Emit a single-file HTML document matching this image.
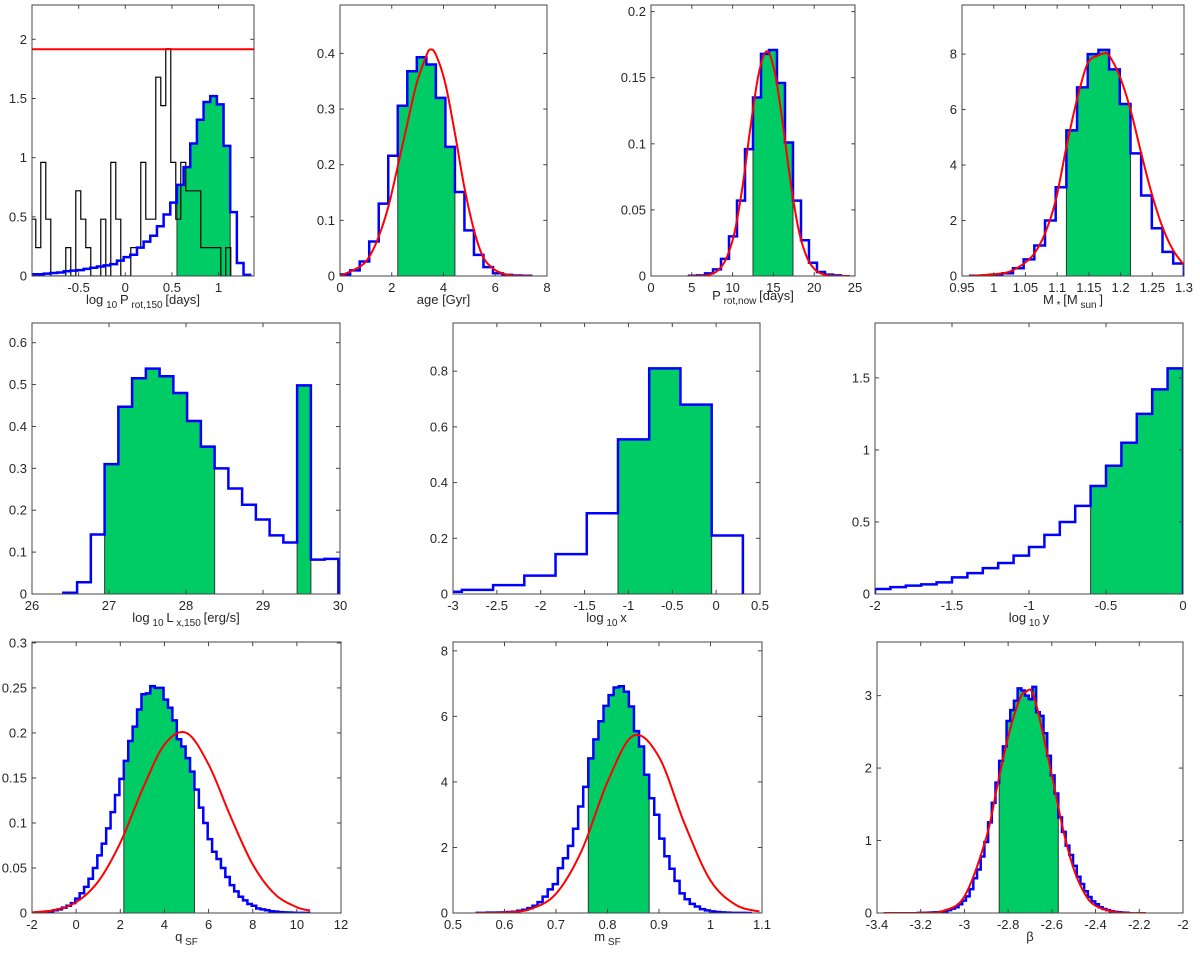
<!DOCTYPE html>
<html><head><meta charset="utf-8">
<style>
html,body{margin:0;padding:0;background:#fff;}
svg{display:block;font-family:"Liberation Sans",Arial,sans-serif;}
</style></head>
<body>
<svg id="fig" width="1200" height="953" viewBox="0 0 1200 953" xmlns="http://www.w3.org/2000/svg"></svg>
<script>
// ---------- data ----------
const p1BlueValues=[0.015,0.015,0.02,0.025,0.03,0.04,0.045,0.05,0.06,0.07,0.08,0.09,0.1,0.13,0.16,0.18,0.24,0.29,0.34,0.42,0.52,0.62,0.77,0.92,1.12,1.32,1.47,1.52,1.45,1.1,0.54,0.11,0.01];
const p1BlackValues=[0.48,0.24,0.96,0.48,0,0,0,0.24,0,0.72,0.48,0.24,0,0,0.48,0,0.96,0.48,0,0,0.24,0.24,0.96,0.48,0.48,1.68,1.44,1.92,0.96,0.48,0.96,0.72,0.72,0.72,0.24,0.24,0.24,0.24,0,0.24];
const p1RedLevel=[1.916];
const p2Values=[0.003,0.01,0.026,0.062,0.13,0.216,0.306,0.368,0.393,0.38,0.32,0.232,0.151,0.082,0.038,0.016,0.005,0.002,0.001,0.0005];
const p2CurveX=[0,0.774,1.135,1.497,1.871,2.232,2.607,2.968,3.329,3.484,3.703,4.065,4.439,4.8,5.175,5.523,5.898,6.259,6.633,7.382];
const p2CurveY=[0,0.017,0.035,0.071,0.125,0.197,0.275,0.347,0.395,0.407,0.398,0.347,0.257,0.161,0.083,0.035,0.014,0.005,0.001,0];
const p3Values=[0.0002,0.0005,0.002,0.005,0.013,0.03,0.057,0.096,0.135,0.168,0.171,0.146,0.101,0.057,0.027,0.01,0.003,0.001,0.0005];
const p3CurveX=[4.6,6.2,7.2,8.2,9.2,10.2,11.2,12.2,13.2,14.2,15.2,16.2,17.2,18.2,19.2,20.2,21.2,22.2,24.4];
const p3CurveY=[0,0.0002,0.0011,0.0042,0.0129,0.032,0.067,0.113,0.153,0.17,0.153,0.113,0.067,0.032,0.0129,0.0042,0.0011,0.0002,0];
const p4Values=[0.01,0.02,0.05,0.1,0.28,0.6,1.1,2.0,3.2,5.25,6.8,8.0,8.15,7.45,6.2,4.42,2.9,1.72,0.87,0.45];
const p4CurveX=[0.963,1.0137,1.0305,1.048,1.0642,1.081,1.0979,1.1147,1.131,1.148,1.1658,1.1737,1.1816,1.199,1.2158,1.2326,1.249,1.2658,1.2826,1.3];
const p4CurveY=[0,0.096,0.216,0.456,0.817,1.54,2.74,4.66,6.33,7.66,7.96,8.02,7.96,7.18,5.98,4.42,2.98,1.78,0.94,0.4];
const p5Values=[0.003,0.028,0.142,0.31,0.447,0.515,0.538,0.52,0.48,0.413,0.352,0.3,0.252,0.213,0.178,0.14,0.123,0.498,0.082,0.084];
const p6Values=[0.008,0.015,0.032,0.066,0.143,0.29,0.555,0.81,0.68,0.21];
const p7Values=[0.035,0.048,0.058,0.067,0.081,0.115,0.145,0.18,0.215,0.266,0.326,0.41,0.5,0.612,0.75,0.89,1.05,1.25,1.42,1.566];
const p8Values=[0.0005,0.001,0.0015,0.002,0.003,0.004,0.006,0.008,0.011,0.016,0.022,0.029,0.038,0.05,0.064,0.077,0.094,0.112,0.131,0.149,0.169,0.191,0.207,0.226,0.243,0.244,0.252,0.25,0.25,0.237,0.228,0.214,0.193,0.185,0.172,0.157,0.137,0.117,0.1,0.082,0.068,0.06,0.05,0.04,0.031,0.024,0.018,0.014,0.01,0.008,0.005,0.004,0.003,0.002,0.0015,0.001,0.0007,0.0005,0.0003,0.0002,0.0001,0.0001];
const p8CurveX=[-2,-1,0,1,2,3,4,5,6,7,8,9,10,10.6];
const p8CurveY=[0.0007,0.0032,0.012,0.035,0.078,0.137,0.187,0.2,0.165,0.107,0.054,0.021,0.0064,0.0028];
const p9Values=[0.003,0.005,0.01,0.01,0.015,0.02,0.03,0.04,0.07,0.1,0.15,0.22,0.33,0.5,0.72,0.88,1.37,1.67,2.05,2.57,3.25,3.85,4.72,5.3,5.85,6.32,6.65,6.88,6.92,6.75,6.3,5.55,5.08,4.22,3.5,3.0,2.27,1.73,1.35,0.98,0.6,0.42,0.28,0.2,0.12,0.08,0.05,0.03,0.02,0.01,0.005,0.003,0.002,0.001];
const p9CurveX=[0.545,0.6,0.65,0.7,0.75,0.8,0.85,0.9,0.95,1.0,1.05,1.095];
const p9CurveY=[0.001,0.016,0.12,0.59,1.91,4.0,5.41,4.76,2.71,0.99,0.24,0.045];
const p10Values=[0.001,0.002,0.003,0.005,0.008,0.01,0.015,0.025,0.04,0.06,0.08,0.12,0.17,0.23,0.33,0.48,0.6,0.78,0.98,1.25,1.52,1.8,2.1,2.3,2.65,2.8,2.93,3.1,3.07,3.0,2.95,3.12,2.77,2.72,2.48,2.17,1.9,1.65,1.32,1.12,0.93,0.8,0.65,0.5,0.4,0.3,0.22,0.16,0.12,0.08,0.055,0.04,0.025,0.015,0.01,0.006,0.003];
const p10CurveX=[-3.37,-3.2,-3.1,-3.0,-2.9,-2.85,-2.8,-2.75,-2.72,-2.68,-2.6,-2.55,-2.5,-2.45,-2.4,-2.3,-2.17];
const p10CurveY=[0,0.002,0.026,0.23,1.04,1.75,2.43,2.93,3.05,2.97,1.9,1.17,0.61,0.27,0.1,0.009,0];

// ---------- rendering ----------
const NS='http://www.w3.org/2000/svg';
const svg=document.getElementById('fig');
function mk(tag,attrs,parent){const e=document.createElementNS(NS,tag);for(const k in attrs)e.setAttribute(k,attrs[k]);(parent||svg).appendChild(e);return e;}
function rng(a,b,s){const r=[];for(let v=a;v<=b+s*1e-6;v+=s)r.push(+v.toFixed(6));return r;}

const panels=[
 {id:'p1',L:32,R:254,T:5,B:276,xl:[-1.0,1.38],yl:[0,2.29],xt:[-0.5,0,0.5,1],yt:[0,0.5,1,1.5,2],
  hist:{start:-1.017,w:0.0714,vals:p1BlueValues},green:[[0.554,1.125]],label:['log','10','P','rot,150',' [days]']},
 {id:'p2',L:340,R:547,T:5,B:276,xl:[0,8],yl:[0,0.487],xt:[0,2,4,6,8],yt:[0,0.1,0.2,0.3,0.4],
  hist:{start:0.025,w:0.368,vals:p2Values},green:[[2.233,4.441]],cx:p2CurveX,cy:p2CurveY,label:['age [Gyr]']},
 {id:'p3',L:651,R:855,T:5,B:276,xl:[0,25],yl:[0,0.205],xt:[0,5,10,15,20,25],yt:[0,0.05,0.1,0.15,0.2],
  hist:{start:4.66,w:0.98,vals:p3Values},green:[[12.5,17.4]],cx:p3CurveX,cy:p3CurveY,label:['','','P','rot,now',' [days]']},
 {id:'p4',L:962,R:1184,T:5,B:276,xl:[0.95,1.3],yl:[0,9.77],xt:[0.95,1,1.05,1.1,1.15,1.2,1.25,1.3],yt:[0,2,4,6,8],
  hist:{start:0.963,w:0.01684,vals:p4Values},green:[[1.1146,1.2156]],cx:p4CurveX,cy:p4CurveY,label:['M','*',' [M','sun',']']},
 {id:'p5',L:32,R:340,T:323,B:594,xl:[26,30],yl:[0,0.647],xt:[26,27,28,29,30],yt:[0,0.1,0.2,0.3,0.4,0.5,0.6],
  hist:{start:26.407,w:0.1786,vals:p5Values},green:[[26.943,28.372],[29.443,29.622]],label:['log','10','L','x,150',' [erg/s]']},
 {id:'p6',L:453,R:760,T:323,B:594,xl:[-3,0.5],yl:[0,0.973],xt:[-3,-2.5,-2,-1.5,-1,-0.5,0,0.5],yt:[0,0.2,0.4,0.6,0.8],
  hist:{start:-3.255,w:0.356,vals:p6Values},green:[[-1.119,-0.051]],label:['log','10','x']},
 {id:'p7',L:875,R:1183,T:323,B:594,xl:[-2,0],yl:[0,1.881],xt:[-2,-1.5,-1,-0.5,0],yt:[0,0.5,1,1.5],
  hist:{start:-2,w:0.1,vals:p7Values},green:[[-0.6,0]],label:['log','10','y']},
 {id:'p8',L:32,R:341,T:642,B:913,xl:[-2,12],yl:[0,0.301],xt:rng(-2,12,2),yt:[0,0.05,0.1,0.15,0.2,0.25,0.3],
  hist:{start:-1.84,w:0.2,vals:p8Values},green:[[2.16,5.36]],cx:p8CurveX,cy:p8CurveY,label:['q','SF']},
 {id:'p9',L:453,R:762,T:642,B:913,xl:[0.5,1.1],yl:[0,8.27],xt:[0.5,0.6,0.7,0.8,0.9,1,1.1],yt:[0,2,4,6,8],
  hist:{start:0.5460,w:0.00985,vals:p9Values},green:[[0.7627,0.8809]],cx:p9CurveX,cy:p9CurveY,label:['m','SF']},
 {id:'p10',L:877,R:1183,T:642,B:913,xl:[-3.4,-2],yl:[0,3.74],xt:[-3.4,-3.2,-3,-2.8,-2.6,-2.4,-2.2,-2],yt:[0,1,2,3],
  hist:{start:-3.2128,w:0.0169,vals:p10Values},green:[[-2.841,-2.5706]],cx:p10CurveX,cy:p10CurveY,label:['β']}
];

function fmt(v){return String(+v.toFixed(4));}

function smoothPath(pts){
  let d='M'+pts[0][0]+','+pts[0][1];
  for(let i=0;i<pts.length-1;i++){
    const p0=pts[Math.max(0,i-1)],p1=pts[i],p2=pts[i+1],p3=pts[Math.min(pts.length-1,i+2)];
    const c1x=p1[0]+(p2[0]-p0[0])/6,c1y=p1[1]+(p2[1]-p0[1])/6;
    const c2x=p2[0]-(p3[0]-p1[0])/6,c2y=p2[1]-(p3[1]-p1[1])/6;
    d+=' C'+c1x+','+c1y+' '+c2x+','+c2y+' '+p2[0]+','+p2[1];
  }
  return d;
}

panels.forEach((p)=>{
  const g=mk('g',{});
  
  
  const X=v=>p.L+(v-p.xl[0])/(p.xl[1]-p.xl[0])*(p.R-p.L);
  const Y=v=>p.B-(v-p.yl[0])/(p.yl[1]-p.yl[0])*(p.B-p.T);
  const cid='clip'+p.id;
  const cp=mk('clipPath',{id:cid},g);
  mk('rect',{x:p.L,y:p.T,width:p.R-p.L,height:p.B-p.T},cp);
  const pg=mk('g',{'clip-path':'url(#'+cid+')'},g);
  const h=p.hist;
  const edge=i=>h.start+i*h.w;
  p.green.forEach((gr,gi)=>{
    let d='M'+X(gr[0])+','+Y(0);
    for(let i=0;i<h.vals.length;i++){
      const a=Math.max(edge(i),gr[0]),b=Math.min(edge(i+1),gr[1]);
      if(b<=a+1e-9)continue;
      d+=' L'+X(a)+','+Y(h.vals[i])+' L'+X(b)+','+Y(h.vals[i]);
    }
    d+=' L'+X(gr[1])+','+Y(0)+' Z';
    const f=mk('path',{d:d,fill:'#00cc66',stroke:'none'},pg);
    
    
    const valAt=x=>{let k=Math.floor((x-h.start)/h.w+1e-9);k=Math.max(0,Math.min(h.vals.length-1,k));return h.vals[k];};
    [gr[0],gr[1]].forEach((ex,ei)=>{
      const vv=ei===0?valAt(ex+1e-6):valAt(ex-1e-6);
      const ln=mk('line',{x1:X(ex),x2:X(ex),y1:Y(0),y2:Y(vv),stroke:'#333',"stroke-width":1},pg);
      
      
    });
  });
  if(p.id==='p1'){
    const bs=-1.013,bw=0.0536;
    let d='M'+X(bs)+','+Y(0);
    p1BlackValues.forEach((v,i)=>{d+=' L'+X(bs+i*bw)+','+Y(v)+' L'+X(bs+(i+1)*bw)+','+Y(v);});
    d+=' L'+X(bs+p1BlackValues.length*bw)+','+Y(0);
    const bk=mk('path',{d:d,fill:'none',stroke:'#000',"stroke-width":1.2},pg);
    
    
  }
  let d='M'+X(edge(0))+','+Y(0);
  h.vals.forEach((v,i)=>{d+=' L'+X(edge(i))+','+Y(v)+' L'+X(edge(i+1))+','+Y(v);});
  d+=' L'+X(edge(h.vals.length))+','+Y(0);
  const bl=mk('path',{d:d,fill:'none',stroke:'#0000ff',"stroke-width":2.5,"stroke-linejoin":'miter'},pg);
  
  
  if(p.cx){
    const pts=p.cx.map((x,i)=>[X(x),Y(p.cy[i])]);
    const rc=mk('path',{d:smoothPath(pts),fill:'none',stroke:'#ff0000',"stroke-width":2},pg);
    
    
  }
  if(p.id==='p1'){
    const rl=mk('line',{x1:X(p.xl[0]),x2:X(p.xl[1]),y1:Y(p1RedLevel[0]),y2:Y(p1RedLevel[0]),stroke:'#ff0000',"stroke-width":2},pg);
    
    
  }
  const bx=mk('rect',{x:p.L,y:p.T,width:p.R-p.L,height:p.B-p.T,fill:'none',stroke:'#444',"stroke-width":1},g);
  
  
  const tl=Math.max(p.R-p.L,p.B-p.T)*0.01+1;
  p.xt.forEach(t=>{
    const x=X(t);
    mk('line',{x1:x,x2:x,y1:p.B,y2:p.B-tl,stroke:'#444'},g);
    mk('line',{x1:x,x2:x,y1:p.T,y2:p.T+tl,stroke:'#444'},g);
    const tx=mk('text',{x:x,y:p.B+16,"text-anchor":'middle',"font-size":13,fill:'#262626'},g);
    tx.textContent=fmt(t);
    
    
  });
  p.yt.forEach(t=>{
    const y=Y(t);
    mk('line',{x1:p.L,x2:p.L+tl,y1:y,y2:y,stroke:'#444'},g);
    mk('line',{x1:p.R,x2:p.R-tl,y1:y,y2:y,stroke:'#444'},g);
    const ty=mk('text',{x:p.L-5,y:y+4.5,"text-anchor":'end',"font-size":13,fill:'#262626'},g);
    ty.textContent=fmt(t);
    
    
  });
  const lab=mk('text',{x:(p.L+p.R)/2,y:p.B+28,"text-anchor":'middle',"font-size":13,fill:'#262626'},g);
  
  
  const parts=p.label;
  if(parts.length===1){lab.textContent=parts[0];}
  else{
    parts.forEach((s,i)=>{
      if(s==='')return;
      const sub=i%2===1;
      const ts=mk('tspan',{},lab);
      if(sub){ts.setAttribute('font-size',10);ts.setAttribute('dy',4);}
      else if(i>0){ts.setAttribute('dy',-4);}
      ts.textContent=sub?' '+s+' ':s;
    });
  }
});
</script>
</body></html>
